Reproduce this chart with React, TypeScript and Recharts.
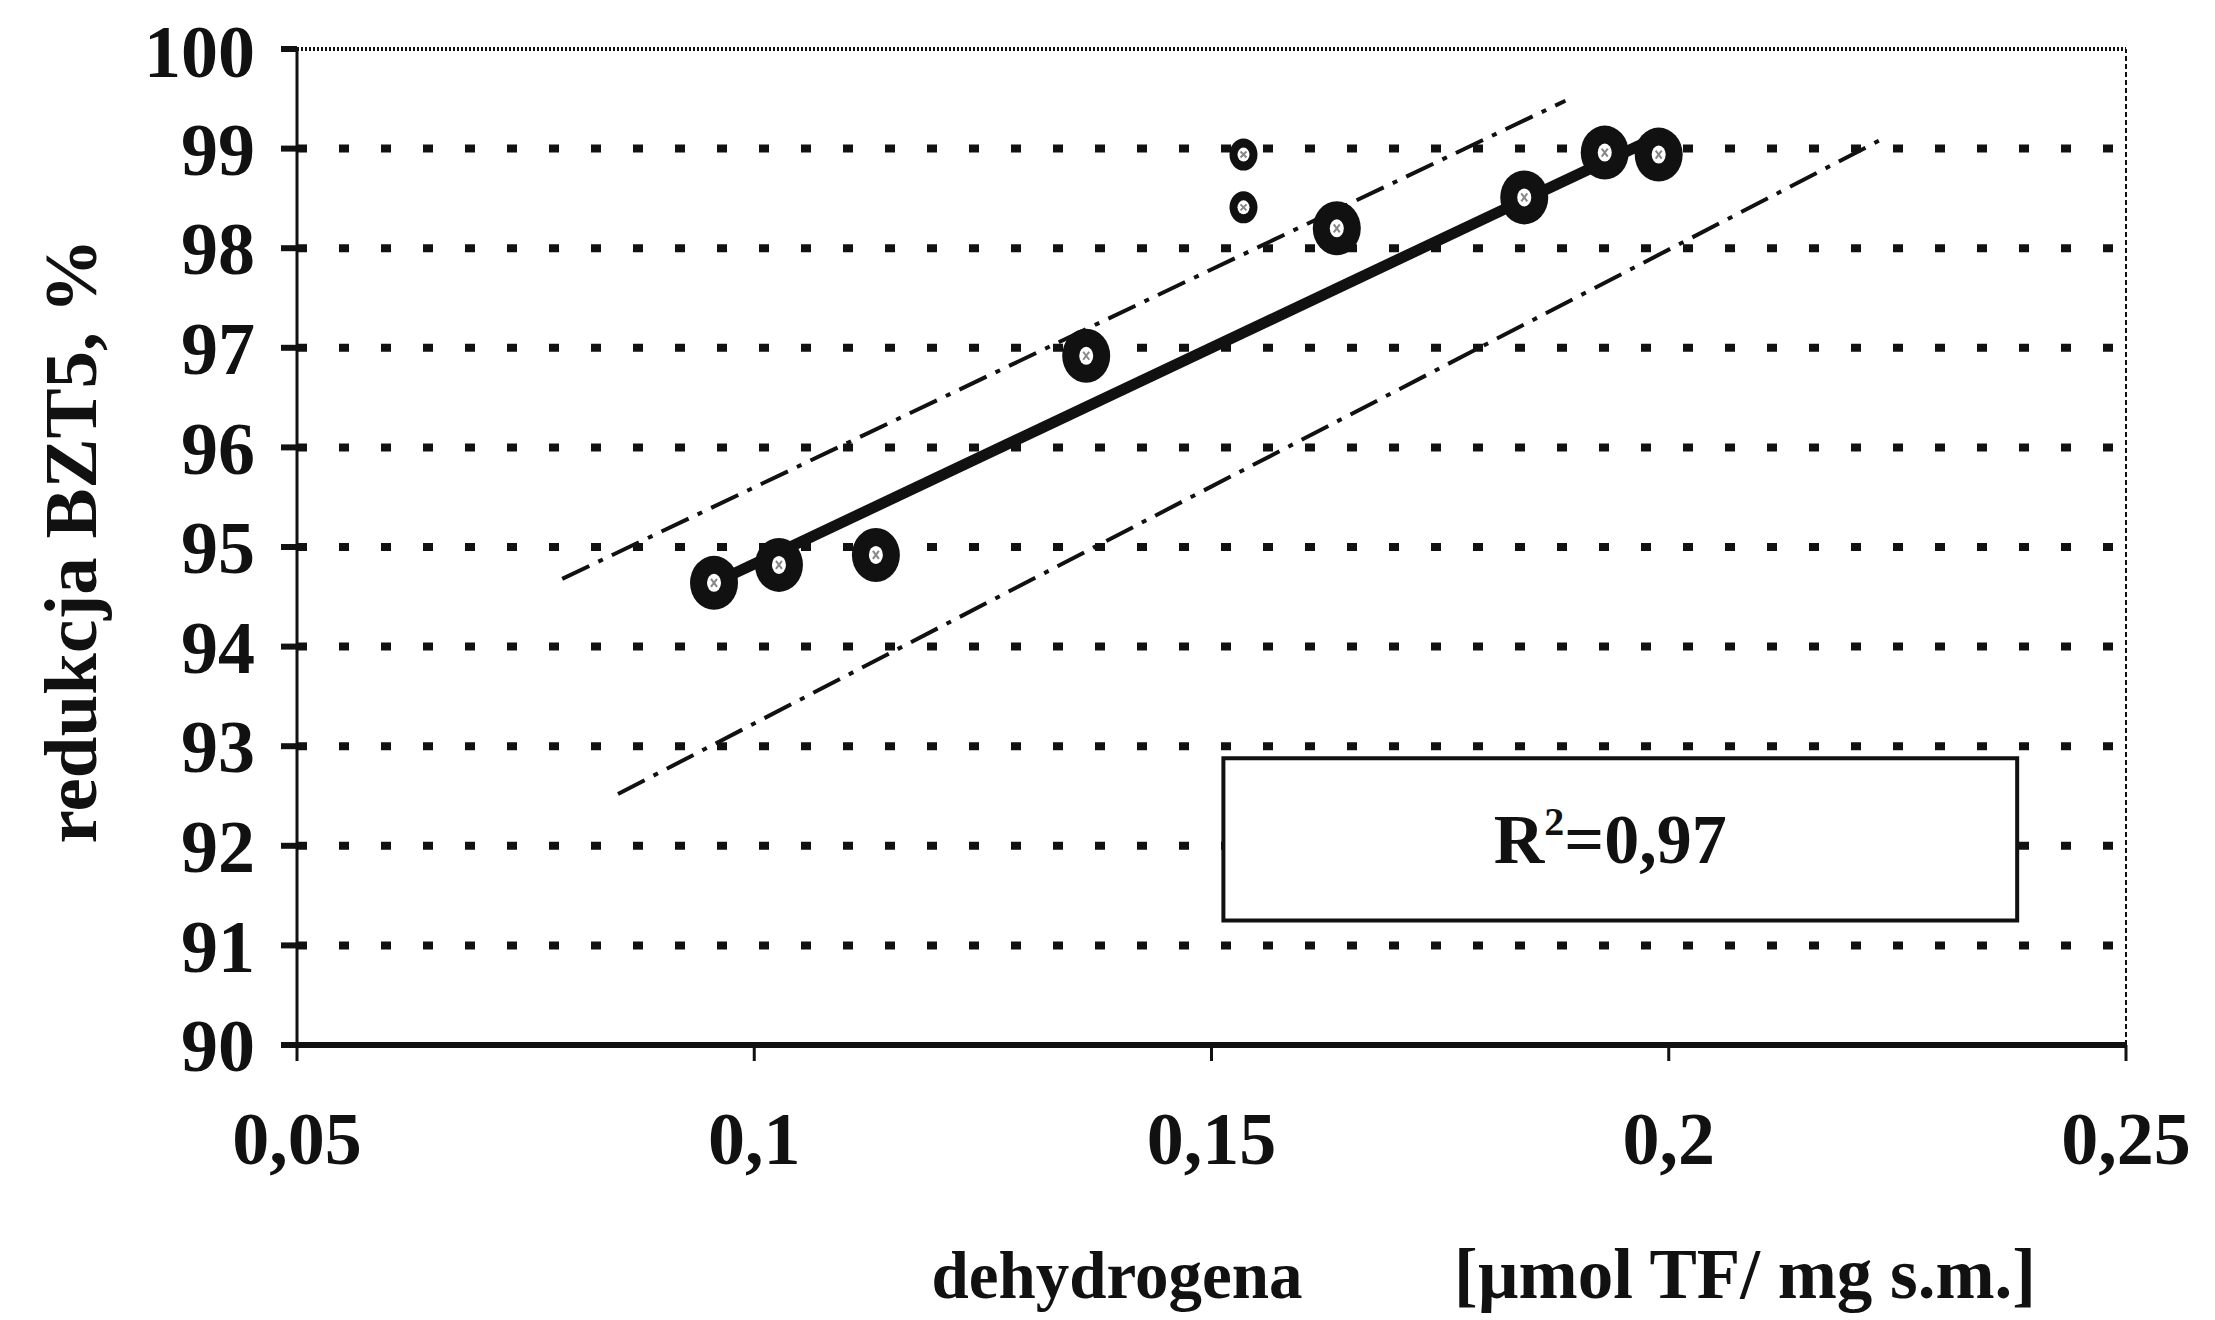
import {
  ScatterChart,
  Scatter,
  XAxis,
  YAxis,
  CartesianGrid,
  ReferenceLine,
  ReferenceArea,
} from "recharts";

const FONT = "'Liberation Serif', 'Times New Roman', serif";
const INK = "#111111";

// axis ticks
const xTicks = [0.05, 0.1, 0.15, 0.2, 0.25];
const yTicks = [90, 91, 92, 93, 94, 95, 96, 97, 98, 99, 100];
const gridValues = yTicks.filter((v) => v > 90 && v < 100);

// measured points (large rings)
const bigX = [0.0956, 0.1027, 0.1133, 0.1363, 0.1637, 0.1842, 0.193, 0.1989];
const bigY = [94.64, 94.82, 94.92, 96.92, 98.2, 98.51, 98.96, 98.94];
// two smaller rings at the same dehydrogenase value
const smallX = [0.1535, 0.1535];
const smallY = [98.94, 98.41];

// regression line and confidence band ends
const fitX = [0.097, 0.1995];
const fitY = [94.7, 99.15];
const upperX = [0.079, 0.1887];
const upperY = [94.68, 99.48];
const lowerX = [0.0851, 0.223];
const lowerY = [92.52, 99.08];

// R² box corners
const boxX = [0.1513, 0.2381];
const boxY = [91.25, 92.88];
const r2Text = "0,97";

const xLabelName = "dehydrogena";
const xLabelUnit = "[\u00b5mol TF/ mg s.m.]";
const yLabel = "redukcja BZT5, %";

const bigPts = bigX.map((x, i) => ({ x, y: bigY[i] }));
const smallPts = smallX.map((x, i) => ({ x, y: smallY[i] }));
const seg = (xs: number[], ys: number[]) => [
  { x: xs[0], y: ys[0] },
  { x: xs[1], y: ys[1] },
];

const fmt = (v: number) => String(v).replace(".", ",");

function BigRing(props: any) {
  const { cx, cy } = props;
  if (cx == null || cy == null) return null;
  return (
    <g>
      <ellipse cx={cx} cy={cy} rx={24} ry={27} fill={INK} />
      <ellipse cx={cx} cy={cy} rx={7} ry={9} fill="#ffffff" />
      <path d={`M${cx - 3} ${cy - 4} L${cx + 3} ${cy + 4} M${cx + 3} ${cy - 4} L${cx - 3} ${cy + 4}`} stroke="#888" strokeWidth={2} />
    </g>
  );
}

function SmallRing(props: any) {
  const { cx, cy } = props;
  if (cx == null || cy == null) return null;
  return (
    <g>
      <ellipse cx={cx} cy={cy} rx={14} ry={16} fill={INK} />
      <ellipse cx={cx} cy={cy} rx={6} ry={7} fill="#ffffff" />
      <path d={`M${cx - 3} ${cy - 3} L${cx + 3} ${cy + 3} M${cx + 3} ${cy - 3} L${cx - 3} ${cy + 3}`} stroke="#888" strokeWidth={2} />
    </g>
  );
}

const tickStyle = { fill: INK, fontSize: 74, fontFamily: FONT, fontWeight: 700 };

export default function App() {
  return (
    <div style={{ width: 2200, height: 1312, background: "#fff" }}>
      <ScatterChart width={2200} height={1312} margin={{ top: 41, right: 82, left: 0, bottom: 175 }}>
        <CartesianGrid
          horizontal
          vertical={false}
          horizontalValues={gridValues}
          stroke={INK}
          strokeWidth={8}
          strokeDasharray="10 32"
        />
        <XAxis
          type="number"
          dataKey="x"
          domain={[0.05, 0.25]}
          ticks={xTicks}
          tickFormatter={fmt}
          allowDataOverflow
          height={100}
          stroke={INK}
          strokeWidth={6}
          tickSize={16}
          tickMargin={50}
          tick={tickStyle}
          tickLine={{ stroke: INK, strokeWidth: 3 }}
          label={{
            content: () => (
              <g fontFamily={FONT} fontWeight={700} fill={INK}>
                <text x={1109} y={1290} textAnchor="middle" fontSize={67} fill={INK}>
                  {xLabelName}
                </text>
                <text x={1737} y={1290} textAnchor="middle" fontSize={71} fill={INK}>
                  {xLabelUnit}
                </text>
              </g>
            ),
          }}
        />
        <YAxis
          type="number"
          dataKey="y"
          domain={[90, 100]}
          ticks={yTicks}
          allowDataOverflow
          width={289}
          stroke={INK}
          strokeWidth={3}
          tickSize={16}
          tickMargin={26}
          tick={tickStyle}
          tickLine={{ stroke: INK, strokeWidth: 6 }}
          label={{
            content: () => (
              <text
                x={62}
                y={533}
                transform="rotate(-90 62 533)"
                textAnchor="middle"
                dominantBaseline="central"
                fontFamily={FONT}
                fontWeight={700}
                fontSize={75}
                fill={INK}
              >
                {yLabel}
              </text>
            ),
          }}
        />

        <ReferenceLine y={100} stroke={INK} strokeWidth={4} strokeDasharray="2 2" />
        <ReferenceLine x={0.25} stroke={INK} strokeWidth={2} strokeDasharray="5 3" />

        <ReferenceArea
          x1={boxX[0]}
          x2={boxX[1]}
          y1={boxY[0]}
          y2={boxY[1]}
          fill="#ffffff"
          fillOpacity={1}
          stroke={INK}
          strokeWidth={4}
          label={{
            content: (p: any) => {
              const vb = p.viewBox;
              return (
                <text
                  x={vb.x + vb.width / 2 - 10}
                  y={vb.y + vb.height / 2 + 24}
                  textAnchor="middle"
                  fontFamily={FONT}
                  fontWeight={700}
                  fontSize={70}
                  fill={INK}
                >
                  R
                  <tspan dy={-28} fontSize={40}>2</tspan>
                  <tspan dy={28}>{"=" + r2Text}</tspan>
                </text>
              );
            },
          }}
        />

        <ReferenceLine segment={seg(upperX, upperY)} stroke={INK} strokeWidth={4} strokeDasharray="30 10 5 10" />
        <ReferenceLine segment={seg(lowerX, lowerY)} stroke={INK} strokeWidth={4} strokeDasharray="30 10 5 10" />
        <ReferenceLine segment={seg(fitX, fitY)} stroke={INK} strokeWidth={11} />

        <Scatter data={bigPts} shape={BigRing} isAnimationActive={false} />
        <Scatter data={smallPts} shape={SmallRing} isAnimationActive={false} />
      </ScatterChart>
    </div>
  );
}
